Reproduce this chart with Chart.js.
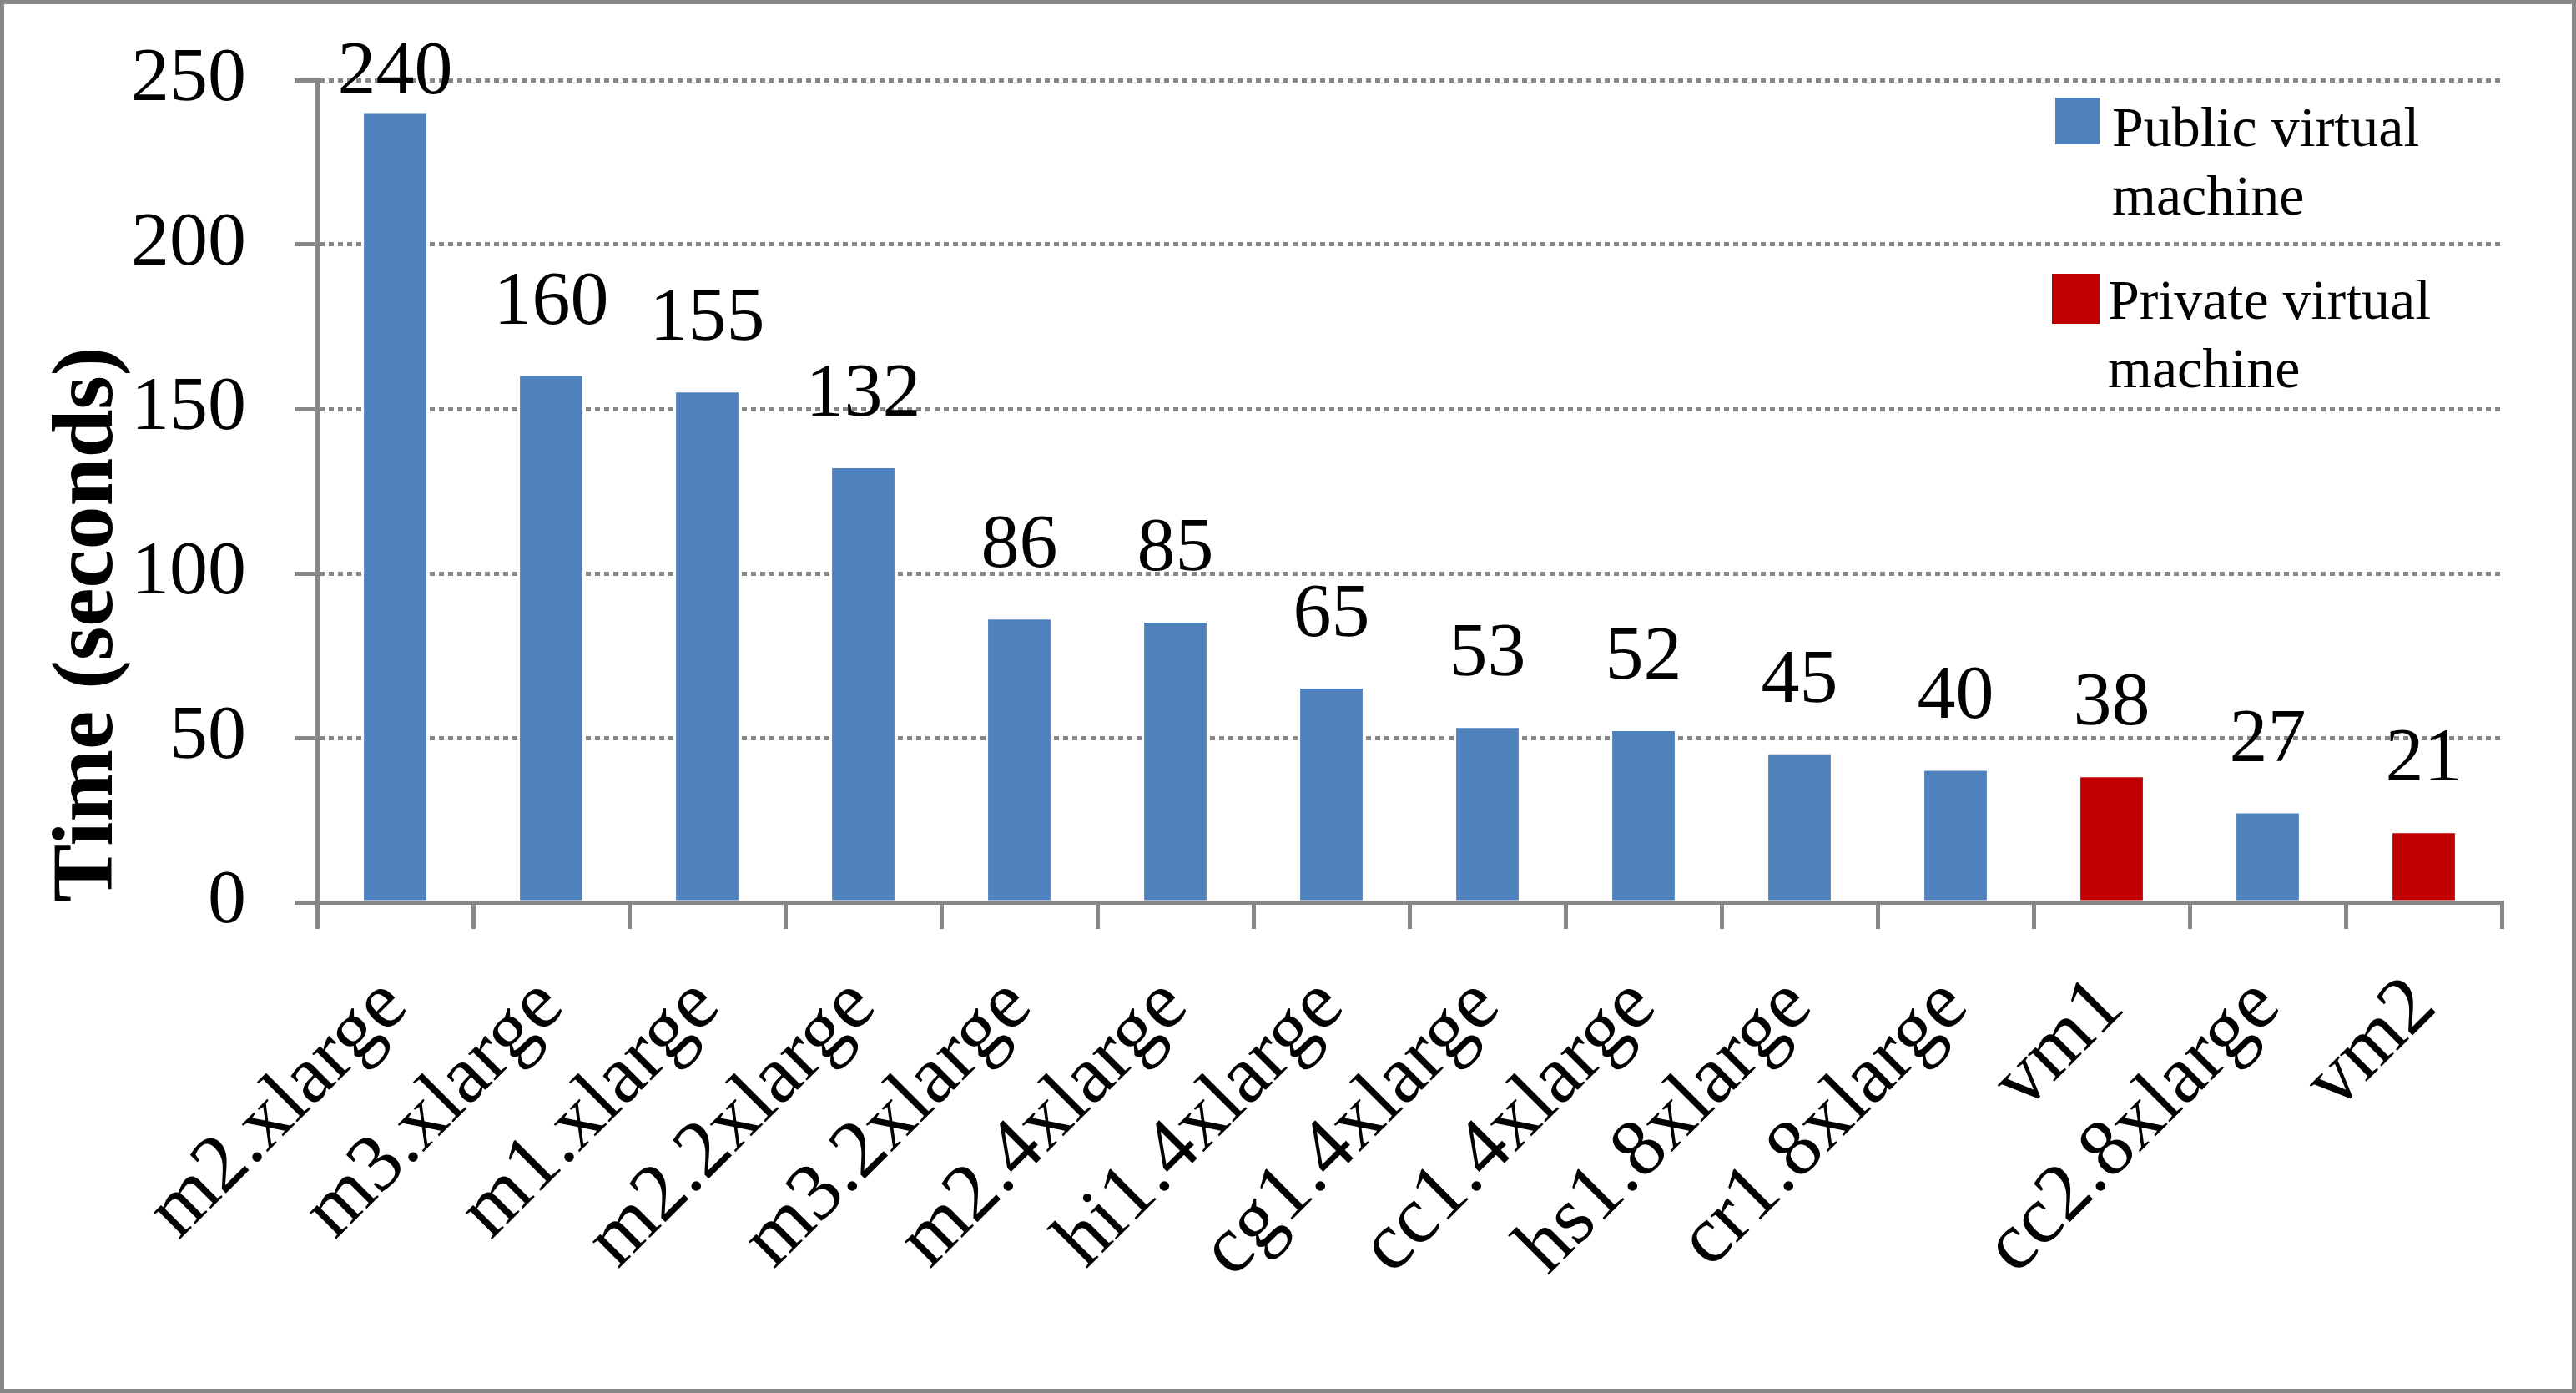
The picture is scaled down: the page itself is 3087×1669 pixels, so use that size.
<!DOCTYPE html>
<html>
<head>
<meta charset="utf-8">
<script src="https://cdn.jsdelivr.net/npm/chart.js@4.4.0/dist/chart.umd.min.js"></script>
<style>
  html, body { margin: 0; padding: 0; background: #fff; }
  #wrap { width: 3087px; height: 1669px; box-sizing: border-box; border: 5px solid #878787; }
  canvas { display: block; }
</style>
</head>
<body>
<div id="wrap"><canvas id="chart" width="3077" height="1659"></canvas></div>
<script>
const categories = ['m2.xlarge', 'm3.xlarge', 'm1.xlarge', 'm2.2xlarge', 'm3.2xlarge', 'm2.4xlarge', 'hi1.4xlarge',
    'cg1.4xlarge', 'cc1.4xlarge', 'hs1.8xlarge', 'cr1.8xlarge', 'vm1', 'cc2.8xlarge', 'vm2'];
const publicTimes = [240, 160, 155, 132, 86, 85, 65, 53, 52, 45, 40, null, 27, null];
const privateTimes = [null, null, null, null, null, null, null, null, null, null, null, 38, null, 21];
const seriesNames = ['Public virtual machine', 'Private virtual machine'];
const legendLines = [['Public virtual', 'machine'], ['Private virtual', 'machine']];
const yTicks = [0, 50, 100, 150, 200, 250];

const gray = '#878787';
const serif = "'Liberation Serif', 'Times New Roman', serif";

// value labels above each bar
const valueLabels = {
    id: 'valueLabels',
    afterDatasetsDraw(chart) {
        const ctx = chart.ctx;
        ctx.save();
        ctx.font = `92px ${serif}`;
        ctx.fillStyle = '#000';
        ctx.textAlign = 'center';
        ctx.textBaseline = 'alphabetic';
        chart.data.datasets.forEach((ds, i) => {
            chart.getDatasetMeta(i).data.forEach((bar, j) => {
                if (ds.data[j] == null) return;
                const y = Math.max(bar.y - 63, chart.chartArea.top + 16);
                ctx.fillText(String(ds.data[j]), bar.x, y);
            });
        });
        ctx.restore();
    }
};

// legend with wrapped labels, top right inside the plot
const wrapLegend = {
    id: 'wrapLegend',
    afterDraw(chart) {
        const ctx = chart.ctx;
        const boxes = [{x: 2458, y: 112, w: 53, h: 56}, {x: 2454, y: 323, w: 57, h: 60}];
        const textX = [2526, 2521];
        const firstBase = [170, 377];
        ctx.save();
        ctx.font = `68px ${serif}`;
        ctx.textAlign = 'left';
        ctx.textBaseline = 'alphabetic';
        chart.data.datasets.forEach((ds, i) => {
            const b = boxes[i];
            ctx.fillStyle = ds.backgroundColor;
            ctx.fillRect(b.x, b.y, b.w, b.h);
            ctx.fillStyle = '#000';
            legendLines[i].forEach((line, k) => {
                ctx.fillText(line, textX[i], firstBase[i] + k * 82);
            });
        });
        ctx.restore();
    }
};

const ctx = document.getElementById('chart').getContext('2d');
new Chart(ctx, {
    type: 'bar',
    data: {
        labels: categories,
        datasets: [{
            label: seriesNames[0],
            data: publicTimes,
            backgroundColor: '#4F81BD',
            grouped: false
        }, {
            label: seriesNames[1],
            data: privateTimes,
            backgroundColor: '#C00000',
            grouped: false
        }]
    },
    options: {
        responsive: false,
        animation: false,
        devicePixelRatio: 1,
        categoryPercentage: 1,
        barPercentage: 0.4,
        layout: { padding: { top: 91, right: 84, bottom: 0, left: 0 } },
        plugins: {
            legend: { display: false },
            tooltip: { enabled: false }
        },
        scales: {
            x: {
                grid: {
                    offset: true,
                    drawOnChartArea: false,
                    drawTicks: true,
                    tickLength: 32,
                    color: gray,
                    lineWidth: 5
                },
                border: { display: true, color: gray, width: 5 },
                ticks: {
                    color: '#000',
                    font: { family: serif, size: 98 },
                    padding: 36,
                    minRotation: 45,
                    maxRotation: 45,
                    autoSkip: false
                },
                afterFit(scale) {
                    scale.height = 583;
                    scale.paddingLeft = 0;
                    scale.paddingRight = 0;
                }
            },
            y: {
                min: 0,
                max: 250,
                afterBuildTicks(scale) {
                    scale.ticks = yTicks.map(v => ({ value: v }));
                },
                grid: {
                    color: gray,
                    lineWidth: 5,
                    tickWidth: 5,
                    tickLength: 27,
                    tickBorderDash: []
                },
                border: { display: true, color: gray, width: 5, dash: [6, 5] },
                ticks: {
                    color: '#000',
                    font: { family: serif, size: 92 },
                    padding: 58
                },
                title: {
                    display: true,
                    text: 'Time (seconds)',
                    align: 'start',
                    color: '#000',
                    font: { family: serif, size: 104, weight: 'bold' },
                    padding: { top: 40, bottom: 0 }
                },
                afterFit(scale) {
                    scale.width = 375;
                    scale.paddingTop = 0;
                    scale.paddingBottom = 0;
                }
            }
        }
    },
    plugins: [valueLabels, wrapLegend]
});
</script>
</body>
</html>
